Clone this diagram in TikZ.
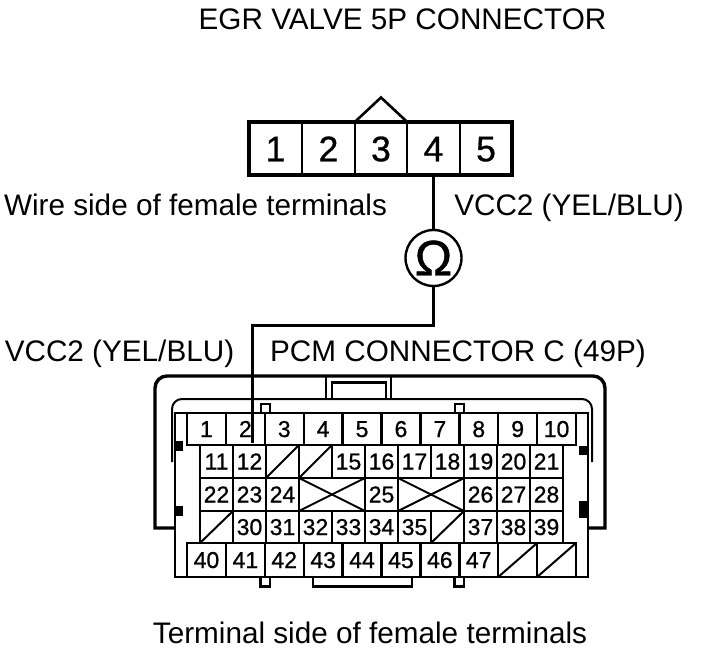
\documentclass[tikz,border=0pt]{standalone}
\usepackage{fontspec}
\setmainfont{Liberation Sans}
\newfontfamily\heavyfont[FakeBold=0.8]{Liberation Sans}
\begin{document}
\begin{tikzpicture}[x=1pt,y=-1pt,
  line join=miter,
  label text/.style={font=\fontsize{29.7}{32}\selectfont,anchor=base,inner sep=0,outer sep=0},
  top pin/.style={draw,line width=2pt,minimum width=52.5pt,minimum height=53pt,inner sep=0,outer sep=0,text height=25.5pt,text depth=0pt,font=\heavyfont\fontsize{35.5}{38}\selectfont},
  wide cell/.style={draw,line width=2.4pt,minimum width=38.9pt,minimum height=32pt,inner sep=0,outer sep=0,text height=16pt,text depth=0pt,font=\heavyfont\fontsize{23}{24}\selectfont},
  grid cell/.style={draw,line width=2pt,minimum width=33pt,minimum height=33pt,inner sep=0,outer sep=0,text height=16pt,text depth=0pt,font=\heavyfont\fontsize{23}{24}\selectfont},
  meter/.style={circle,draw,line width=2.4pt,minimum size=56pt,inner sep=0,outer sep=0,font=\heavyfont\fontsize{50}{52}\selectfont},
  shell/.style={line width=3.4pt},
  inner shell/.style={line width=2pt},
  body/.style={line width=2.6pt},
  wire/.style={line width=3pt},
  slash/.style={line width=2pt}]
\useasboundingbox (0,0) rectangle (704,650);

% labels
\node[label text] (title) at (402.5,30) {EGR VALVE 5P CONNECTOR};
\node[label text] (wireside) at (195.5,215) {Wire side of female terminals};
\node[label text] (vccright) at (569,215) {VCC2 (YEL/BLU)};
\node[label text] (vccleft) at (119.5,361) {VCC2 (YEL/BLU)};
\node[label text] (pcm) at (458,361) {PCM CONNECTOR C (49P)};
\node[label text] (termside) at (370,643) {Terminal side of female terminals};

% EGR connector
\foreach \n/\x in {1/275.5,2/328.5,3/381,4/433.5,5/486}
  \node[top pin] (e\n) at (\x,148.5) {\n};
\draw[line width=3.6pt] (249,122) rectangle (512,175);
\draw[line width=2.6pt,line join=miter] (e3.north west) -- (381,97.5) -- (e3.north east);

% shell of PCM connector
\draw[shell] (175,528) -- (155,528) -- (155,450) [rounded corners=12pt] -- (155,376) -- (605,376) -- (605,450) [sharp corners] -- (605,528) -- (588,528);
\draw[inner shell] (326,376) -- (326,399) (391,376) -- (391,399);
\draw[inner shell,line width=2.6pt] (332,399) -- (332,382.5) -- (386,382.5) -- (386,399);
\draw[inner shell,rounded corners=10pt] (172,462) -- (172,399) -- (592,399) -- (592,462);
\draw[inner shell,fill=white] (261,413) rectangle (269.5,404);
\draw[inner shell,fill=white] (455,413) rectangle (463.5,404);
\draw[body] (175,413) rectangle (588,577);
\draw[body] (260.5,577) -- (260.5,586.5) -- (270,586.5) -- (270,577);
\draw[body] (454.5,577) -- (454.5,586.5) -- (464,586.5) -- (464,577);
\draw[body] (313,577) -- (313,586.5) -- (412,586.5) -- (412,577);
\fill (175,441) rectangle (183,451);
\fill (175,506) rectangle (183,516);
\fill (579,446) rectangle (588,455);
\fill (579,501) rectangle (588,518);

% row 1
\foreach \n [evaluate=\n as \x using {187+38.9*(\n-0.5)}] in {1,...,10}
  \node[wide cell] (c\n) at (\x,429) {\n};
% row 2
\foreach \n/\c in {11/0,12/1,15/4,16/5,17/6,18/7,19/8,20/9,21/10}
  \node[grid cell] (c\n) at ({216.5+33*\c},461.5) {\n};
\foreach \n/\c in {s1/2,s2/3}
  \node[grid cell] (\n) at ({216.5+33*\c},461.5) {};
% row 3
\foreach \n/\c in {22/0,23/1,24/2,25/5,26/8,27/9,28/10}
  \node[grid cell] (c\n) at ({216.5+33*\c},494.5) {\n};
\node[grid cell,minimum width=66pt] (x1) at (332,494.5) {};
\node[grid cell,minimum width=66pt] (x2) at (431,494.5) {};
% row 4
\foreach \n/\c in {30/1,31/2,32/3,33/4,34/5,35/6,37/8,38/9,39/10}
  \node[grid cell,minimum height=32pt] (c\n) at ({216.5+33*\c},527) {\n};
\foreach \n/\c in {s3/0,s4/7}
  \node[grid cell,minimum height=32pt] (\n) at ({216.5+33*\c},527) {};
% row 5
\foreach \n [evaluate=\n as \c using {\n-39.5}] in {40,...,47}
  \node[wide cell,minimum height=34pt] (c\n) at ({187+38.9*\c},560) {\n};
\node[wide cell,minimum height=34pt] (s5) at ({187+38.9*8.5},560) {};
\node[wide cell,minimum height=34pt] (s6) at ({187+38.9*9.5},560) {};

% struck-out cavities
\foreach \n in {s1,s2,s3,s4,s5,s6}
  \draw[slash] (\n.south west) -- (\n.north east);
\foreach \n in {x1,x2} {
  \draw[slash] (\n.south west) -- (\n.north east);
  \draw[slash] (\n.north west) -- (\n.south east);
}

% meter and wire
\node[meter] (ohm) at (433.5,258) {Ω};
\coordinate (probe) at (252,443);
\draw[wire] (e4.south) -- (ohm.north);
\draw[wire] (ohm.south) |- (252,325) -- (probe);
\end{tikzpicture}
\end{document}
